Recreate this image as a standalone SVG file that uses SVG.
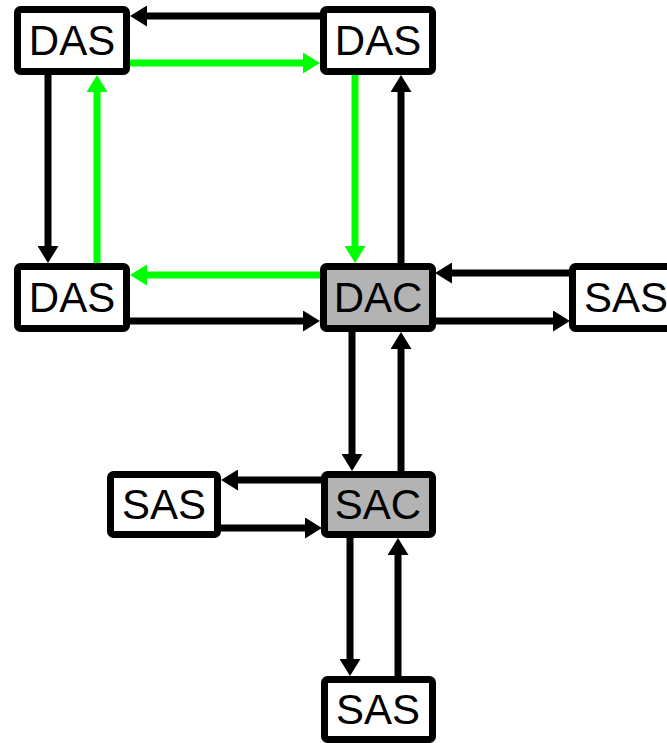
<svg xmlns="http://www.w3.org/2000/svg" width="667" height="743" viewBox="0 0 667 743">
<style>
.box{fill:#ffffff;stroke:#000000;stroke-width:7}
.gray{fill:#b3b3b3}
.lbl{font-family:"Liberation Sans",Arial,sans-serif;font-size:42px;fill:#000000;text-anchor:middle}
.k{stroke:#000000;stroke-width:7;fill:none;marker-end:url(#ak)}
.g{stroke:#00ff00;stroke-width:7;fill:none;marker-end:url(#ag)}
</style>
<defs>
<marker id="ak" viewBox="0 0 17 21" refX="5" refY="10.5" markerWidth="17" markerHeight="21" markerUnits="userSpaceOnUse" orient="auto"><path d="M0,0 L17,10.5 L0,21 z" fill="#000000"/></marker>
<marker id="ag" viewBox="0 0 17 21" refX="5" refY="10.5" markerWidth="17" markerHeight="21" markerUnits="userSpaceOnUse" orient="auto"><path d="M0,0 L17,10.5 L0,21 z" fill="#00ff00"/></marker>
</defs>
<rect width="667" height="743" fill="#ffffff"/>
<g id="connectors">
<line class="k" x1="320" y1="16" x2="142" y2="16"/>
<line class="g" x1="130" y1="63" x2="308" y2="63"/>
<line class="k" x1="48" y1="75" x2="48" y2="251"/>
<line class="g" x1="97" y1="263" x2="97" y2="87"/>
<line class="g" x1="355" y1="75" x2="355" y2="251"/>
<line class="k" x1="401" y1="263" x2="401" y2="87"/>
<line class="g" x1="320" y1="275" x2="142" y2="275"/>
<line class="k" x1="130" y1="321" x2="308" y2="321"/>
<line class="k" x1="570" y1="273" x2="447" y2="273"/>
<line class="k" x1="435" y1="321" x2="558" y2="321"/>
<line class="k" x1="352" y1="332" x2="352" y2="459"/>
<line class="k" x1="401" y1="471" x2="401" y2="344"/>
<line class="k" x1="322" y1="480" x2="233" y2="480"/>
<line class="k" x1="221" y1="528" x2="310" y2="528"/>
<line class="k" x1="350" y1="538" x2="350" y2="664"/>
<line class="k" x1="398" y1="676" x2="398" y2="550"/>
</g>
<g id="das1"><rect class="box" x="17.5" y="9.5" width="109" height="62" rx="3"/><text class="lbl" x="72" y="55">DAS</text></g>
<g id="das2"><rect class="box" x="323.5" y="9.5" width="109" height="62" rx="3"/><text class="lbl" x="378" y="55">DAS</text></g>
<g id="das3"><rect class="box" x="17.5" y="266.5" width="109" height="62" rx="3"/><text class="lbl" x="72" y="312">DAS</text></g>
<g id="dac"><rect class="box gray" x="323.5" y="266.5" width="109" height="62" rx="3"/><text class="lbl" x="378" y="312">DAC</text></g>
<g id="sas-right"><rect class="box" x="572.5" y="266.5" width="109" height="62" rx="3"/><text class="lbl" x="626" y="312">SAS</text></g>
<g id="sas-left"><rect class="box" x="110.5" y="474.5" width="107" height="60" rx="3"/><text class="lbl" x="164" y="519">SAS</text></g>
<g id="sac"><rect class="box gray" x="324.5" y="474.5" width="108" height="60" rx="3"/><text class="lbl" x="378" y="519">SAC</text></g>
<g id="sas-bottom"><rect class="box" x="324.5" y="679.5" width="108" height="60" rx="3"/><text class="lbl" x="378" y="724">SAS</text></g>
</svg>
